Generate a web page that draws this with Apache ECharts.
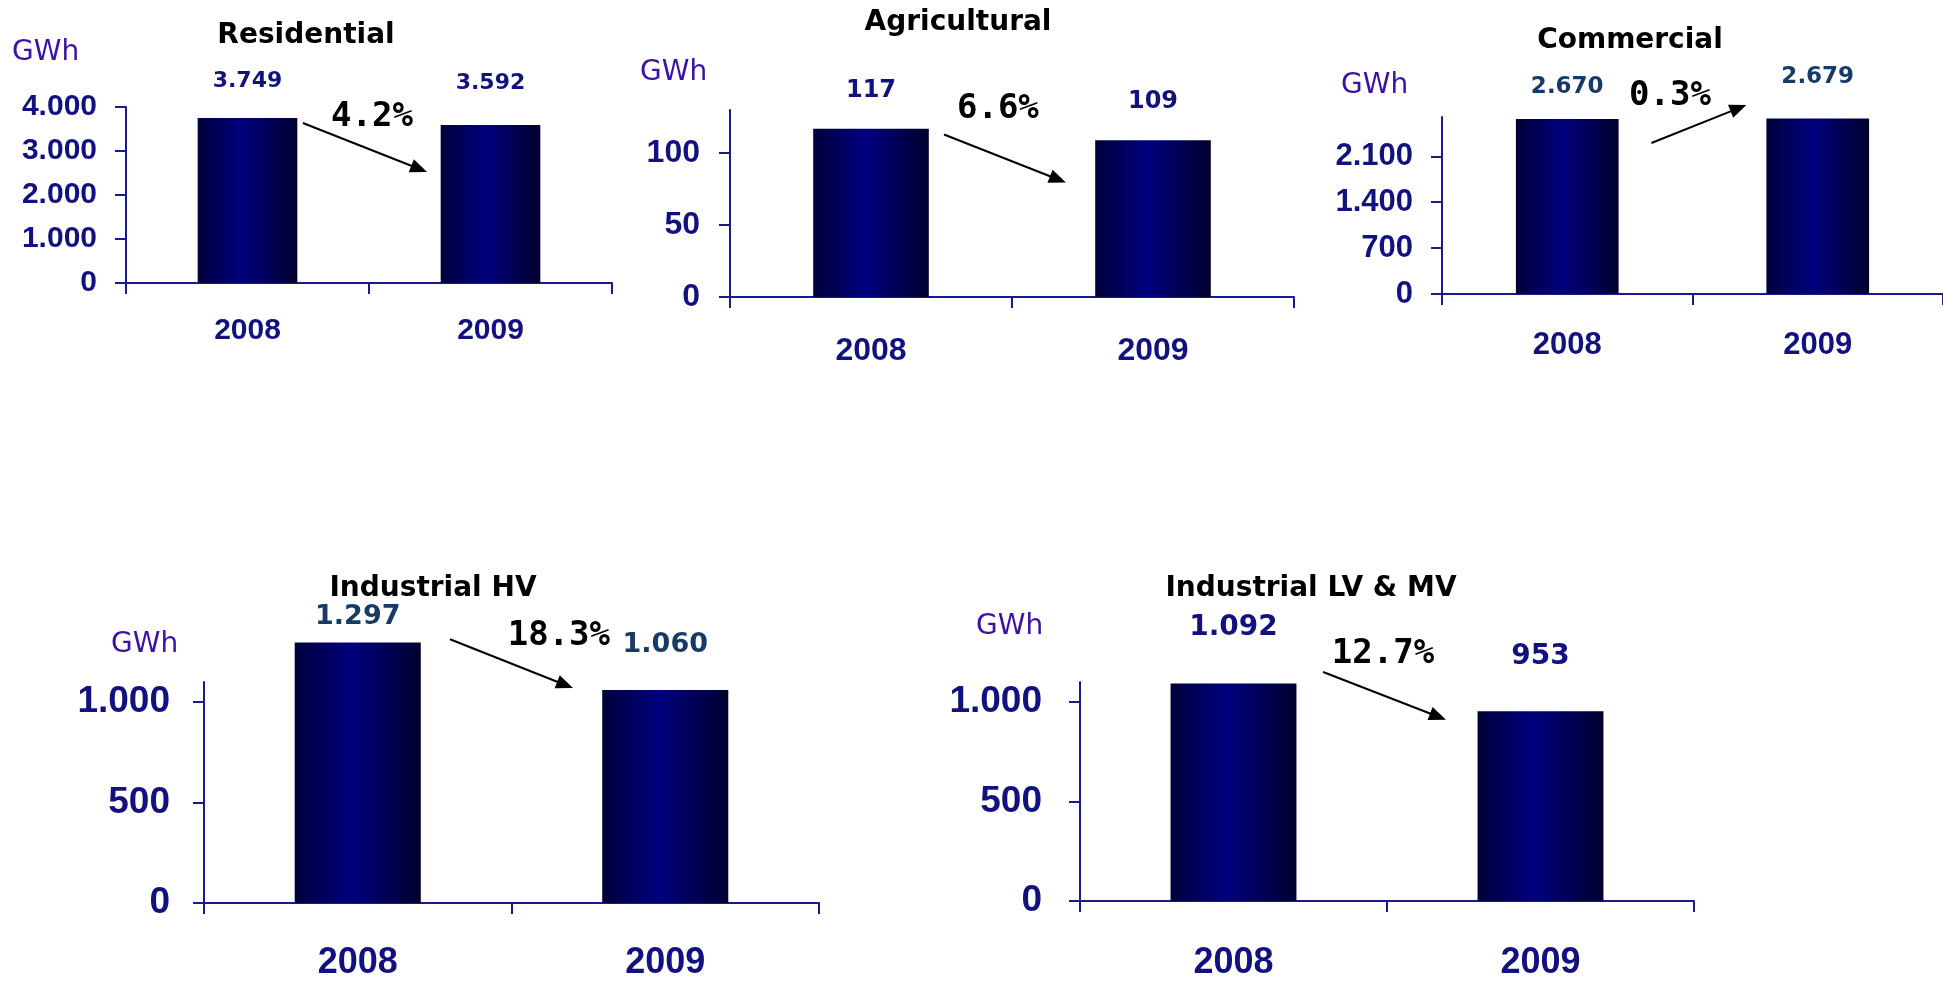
<!DOCTYPE html>
<html>
<head>
<meta charset="utf-8">
<title>Electricity sales by sector 2008-2009</title>
<script src="https://cdn.jsdelivr.net/npm/echarts@6.0.0/dist/echarts.min.js"></script>
<style>
  html, body { margin: 0; padding: 0; background: #fff; }
  #main { width: 1943px; height: 981px; }
</style>
</head>
<body>
<div id="main"></div>
<script>
// values, GWh
const years = ['2008', '2009'];
const residential = [3749, 3592];
const agricultural = [117, 109];
const commercial = [2670, 2679];
const industrialHV = [1297, 1060];
const industrialLVMV = [1092, 953];

const titles = ['Residential', 'Agricultural', 'Commercial', 'Industrial HV', 'Industrial LV & MV'];
const changes = ['4.2%', '6.6%', '0.3%', '18.3%', '12.7%'];

const residentialTicks = [0, 1000, 2000, 3000, 4000];
const agriculturalTicks = [0, 50, 100];
const commercialTicks = [0, 700, 1400, 2100];
const industrialTicks = [0, 500, 1000];

const NAVY = '#12127e';
const AXIS = '#1a1a8c';
const TEAL = '#173b66';
const UNIT = '#3b12a6';

// layout of each small chart; arrow / pct are in data units (category index, value)
const panels = [
  { data: residential, ticks: residentialTicks, max: 4000,
    grid: { left: 126, top: 107, width: 486, height: 176 },
    title: { x: 306, top: 22 }, unit: { x: 12, top: 39 },
    yFont: 30, yMargin: 29, xFont: 30, xMargin: 33,
    valFont: 22, valColor: NAVY, valGap: [26, 31],
    arrow: [[0.228, 3636], [0.739, 2523]], pct: [0.512, 3761] },
  { data: agricultural, ticks: agriculturalTicks, max: 130,
    grid: { left: 730, top: 110, width: 564, height: 187 },
    title: { x: 958, top: 9 }, unit: { x: 640, top: 59 },
    yFont: 32, yMargin: 30, xFont: 32, xMargin: 38,
    valFont: 24, valColor: NAVY, valGap: [26, 26],
    arrow: [[0.259, 113], [0.691, 79.6]], pct: [0.45, 130.8] },
  { data: commercial, ticks: commercialTicks, max: 2700,
    grid: { left: 1442, top: 117, width: 512, height: 177 },
    title: { x: 1630, top: 27 }, unit: { x: 1341, top: 72 },
    yFont: 31, yMargin: 29, xFont: 31, xMargin: 36,
    valFont: 23, valColor: TEAL, valGap: [20, 30],
    arrow: [[0.336, 2303], [0.715, 2883]], pct: [0.41, 3020] },
  { data: industrialHV, ticks: industrialTicks, max: 1100,
    grid: { left: 204, top: 682, width: 615, height: 222 },
    title: { x: 433, top: 575 }, unit: { x: 111, top: 631 },
    yFont: 37, yMargin: 34, xFont: 36, xMargin: 42,
    valFont: 27, valColor: TEAL, valGap: [12, 32],
    arrow: [[0.3, 1313], [0.7, 1070]], pct: [0.654, 1328] },
  { data: industrialLVMV, ticks: industrialTicks, max: 1100,
    grid: { left: 1080, top: 682, width: 614, height: 221 },
    title: { x: 1311, top: 575 }, unit: { x: 976, top: 613 },
    yFont: 37, yMargin: 38, xFont: 36, xMargin: 44,
    valFont: 28, valColor: NAVY, valGap: [42, 41],
    arrow: [[0.292, 1150], [0.692, 911]], pct: [0.487, 1239] }
];

const fmt = v => String(v).replace(/\B(?=(\d{3})+(?!\d))/g, '.');

const barColor = new echarts.graphic.LinearGradient(0, 0, 1, 0, [
  { offset: 0, color: '#00003a' },
  { offset: 0.45, color: '#00007e' },
  { offset: 1, color: '#00002e' }
]);

const axisLine = { show: true, lineStyle: { color: AXIS, width: 2 } };

const option = {
  animation: false,
  title: panels.flatMap((p, i) => [
    { text: titles[i], left: p.title.x, top: p.title.top, textAlign: 'center', padding: 0,
      textStyle: { fontFamily: 'DejaVu Sans', fontWeight: 'bold', fontSize: 28, color: '#000' } },
    { text: 'GWh', left: p.unit.x, top: p.unit.top, padding: 0,
      textStyle: { fontFamily: 'DejaVu Sans', fontWeight: 'normal', fontSize: 28, color: UNIT } }
  ]),
  grid: panels.map(p => Object.assign({ containLabel: false }, p.grid)),
  xAxis: panels.map((p, i) => ({
    type: 'category', gridIndex: i, data: years,
    axisLine: axisLine,
    axisTick: { show: true, length: 11, lineStyle: { color: AXIS, width: 2 } },
    axisLabel: { margin: p.xMargin, fontFamily: 'Liberation Sans', fontWeight: 'bold',
      fontSize: p.xFont, color: NAVY }
  })),
  yAxis: panels.map((p, i) => ({
    type: 'value', gridIndex: i, min: 0, max: p.max,
    splitLine: { show: false },
    axisLine: axisLine,
    axisTick: { show: true, length: 11, customValues: p.ticks, lineStyle: { color: AXIS, width: 2 } },
    axisLabel: { customValues: p.ticks, formatter: fmt, margin: p.yMargin,
      fontFamily: 'Liberation Sans', fontWeight: 'bold', fontSize: p.yFont, color: NAVY }
  })),
  series: panels.map((p, i) => ({
    type: 'bar', xAxisIndex: i, yAxisIndex: i, barWidth: '41%', clip: false, silent: true,
    itemStyle: { color: barColor },
    label: { show: true, position: 'top', formatter: d => fmt(d.value),
      fontFamily: 'DejaVu Sans', fontWeight: 'bold', fontSize: p.valFont, color: p.valColor },
    data: p.data.map((v, k) => ({ value: v, label: { distance: p.valGap[k] } }))
  }))
};

const chart = echarts.init(document.getElementById('main'));
chart.setOption(option);

// change arrows and percentages, placed through each panel's axes
const graphics = [];
panels.forEach((p, i) => {
  const c0 = chart.convertToPixel({ xAxisIndex: i }, years[0]);
  const c1 = chart.convertToPixel({ xAxisIndex: i }, years[1]);
  const toPx = pt => [c0 + (c1 - c0) * pt[0], chart.convertToPixel({ yAxisIndex: i }, pt[1])];

  const a = toPx(p.arrow[0]);
  const b = toPx(p.arrow[1]);
  const len = Math.hypot(b[0] - a[0], b[1] - a[1]);
  const dx = (b[0] - a[0]) / len, dy = (b[1] - a[1]) / len;
  const head = 17, half = 7;
  const base = [b[0] - dx * head, b[1] - dy * head];
  graphics.push({
    type: 'line', silent: true,
    shape: { x1: a[0], y1: a[1], x2: base[0] + dx * 2, y2: base[1] + dy * 2 },
    style: { stroke: '#000', lineWidth: 2 }
  });
  graphics.push({
    type: 'polygon', silent: true,
    shape: { points: [b, [base[0] - dy * half, base[1] + dx * half], [base[0] + dy * half, base[1] - dx * half]] },
    style: { fill: '#000' }
  });

  const t = toPx(p.pct);
  graphics.push({
    type: 'text', silent: true, x: t[0], y: t[1],
    style: { text: changes[i], font: 'bold 34px "DejaVu Sans Mono"', fill: '#000',
      align: 'center', verticalAlign: 'middle' }
  });
});
chart.setOption({ graphic: graphics });
</script>
</body>
</html>
